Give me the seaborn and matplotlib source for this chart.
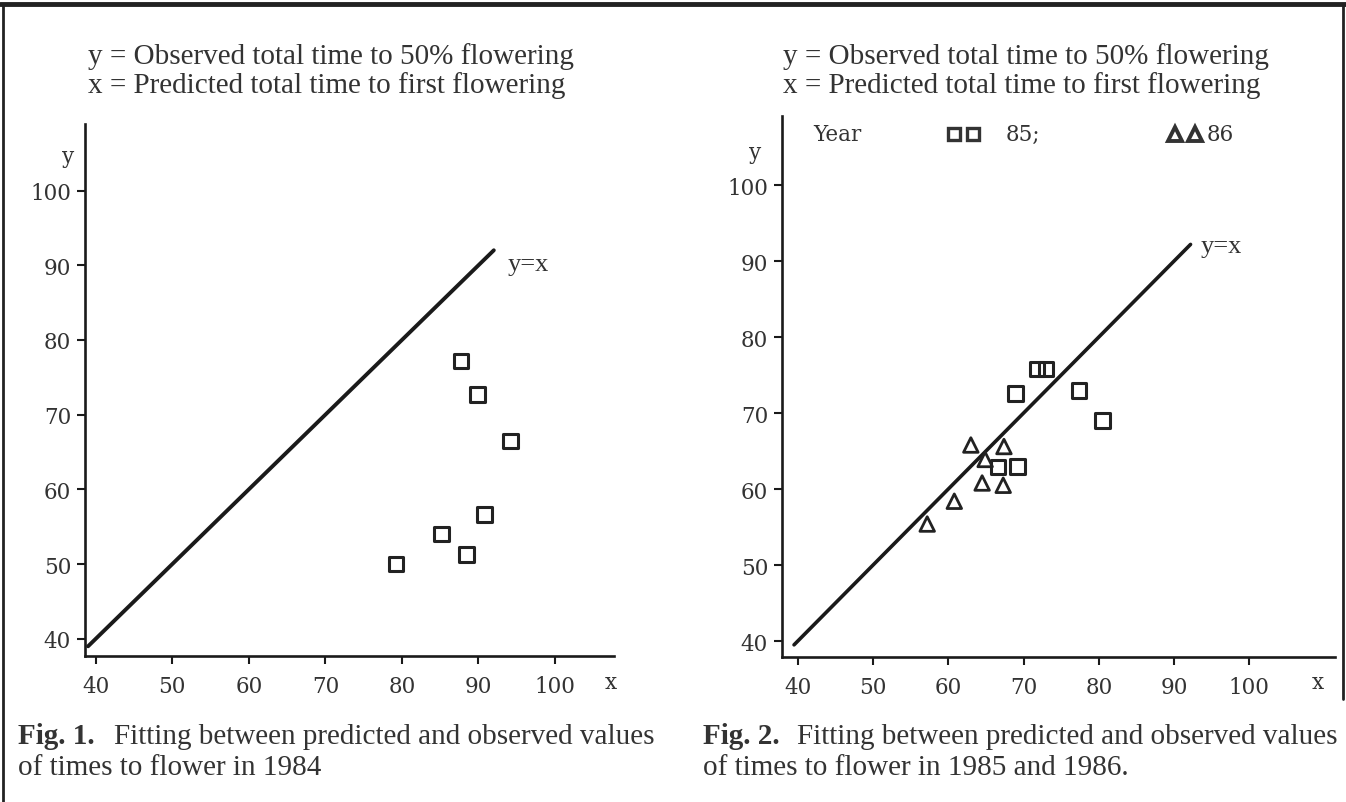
import matplotlib
matplotlib.use("Agg")
import matplotlib.pyplot as plt
from matplotlib.lines import Line2D
import seaborn as sns

# =========================
# DATA
# =========================

# Fig. 1 : 1984, squares
x_1984 = [87.7, 89.9, 94.2, 90.8, 85.2, 88.4, 79.2]
y_1984 = [77.2, 72.7, 66.5, 56.6, 54.0, 51.3, 50.0]

# Fig. 2 : 1985 squares, 1986 triangles
x_1985 = [71.8, 73.0, 68.9, 77.4, 80.5, 66.6, 69.2]
y_1985 = [75.8, 75.8, 72.6, 73.0, 69.0, 62.9, 63.0]
x_1986 = [63.0, 67.4, 64.9, 64.5, 67.3, 60.8, 57.2]
y_1986 = [65.8, 65.6, 63.9, 60.8, 60.5, 58.4, 55.4]

# y = x reference lines
line_left = [39.0, 92.0]
line_right = [39.5, 92.2]

tick_values = [40, 50, 60, 70, 80, 90, 100]

header_y = "y = Observed total time to 50% flowering"
header_x = "x = Predicted total time to first flowering"

# =========================
# STYLE
# =========================

sns.set_style("white")
plt.rcParams["font.family"] = ["DejaVu Serif"]

W, H = 1346, 803
fig = plt.figure(figsize=(W / 100, H / 100), dpi=100)


def px_box(left, right, top, bottom):
    return [left / W, 1 - bottom / H, (right - left) / W, (bottom - top) / H]


def style_axes(ax, xlim, ylim):
    ax.set_xlim(*xlim)
    ax.set_ylim(*ylim)
    ax.set_xticks(tick_values)
    ax.set_yticks(tick_values)
    ax.set_xticklabels([str(t) for t in tick_values])
    ax.set_yticklabels([str(t) for t in tick_values])
    for side in ["top", "right"]:
        ax.spines[side].set_visible(False)
    for side in ["left", "bottom"]:
        ax.spines[side].set_color("#1a1a1a")
        ax.spines[side].set_linewidth(1.9)
    ax.tick_params(axis="both", direction="out", length=6, width=1.5,
                   colors="#1a1a1a", labelsize=15.5, labelcolor="#333333",
                   bottom=True, left=True)
    ax.tick_params(axis="x", pad=8)
    ax.tick_params(axis="y", pad=4)
    ax.set_xlabel("")
    ax.set_ylabel("")
    ax.set_facecolor("white")


def open_markers(ax, x, y, marker, size, lw):
    sns.scatterplot(x=x, y=y, marker=marker, s=size, color="#222222",
                    linewidth=lw, ax=ax, legend=False, zorder=3)
    coll = ax.collections[-1]
    coll.set_facecolor("none")
    coll.set_edgecolor("#222222")
    coll.set_linewidth(lw)


# =========================
# FIG. 1
# =========================

ax1 = fig.add_axes(px_box(85, 614, 125, 657))
sns.lineplot(x=line_left, y=line_left, color="#1a1a1a", linewidth=2.8, ax=ax1)
open_markers(ax1, x_1984, y_1984, "s", 110, 2.2)
style_axes(ax1, (38.6, 107.7), (37.7, 108.9))
ax1.text(93.8, 90.2, "y=x", fontsize=19, family="Liberation Serif",
         color="#333333", va="center", ha="left")

# =========================
# FIG. 2
# =========================

ax2 = fig.add_axes(px_box(782, 1335, 117, 658))
sns.lineplot(x=line_right, y=line_right, color="#1a1a1a", linewidth=2.6, ax=ax2)
open_markers(ax2, x_1985, y_1985, "s", 110, 2.2)
open_markers(ax2, x_1986, y_1986, "^", 110, 2.0)
style_axes(ax2, (37.9, 111.4), (37.9, 109.1))
ax2.text(93.5, 92.0, "y=x", fontsize=19, family="Liberation Serif",
         color="#333333", va="center", ha="left")

# legend drawn as text + marker glyphs
leg_y = 0.967
ax2.text(0.056, leg_y, "Year", transform=ax2.transAxes, fontsize=15.5,
         color="#333333", va="center", ha="left")
ax2.text(0.405, leg_y, "85;", transform=ax2.transAxes, fontsize=15.5,
         color="#333333", va="center", ha="left")
ax2.text(0.767, leg_y, "86", transform=ax2.transAxes, fontsize=15.5,
         color="#333333", va="center", ha="left")
for fx in [0.311, 0.346]:
    ax2.plot(fx, leg_y, marker="s", markersize=9, mfc="none", mec="#333333",
             mew=2.4, transform=ax2.transAxes, clip_on=False)
for fx in [0.711, 0.747]:
    ax2.plot(fx, leg_y, marker="^", markersize=10, mfc="none", mec="#333333",
             mew=2.8, transform=ax2.transAxes, clip_on=False)

# =========================
# TEXT AROUND THE PLOTS
# =========================

serif_txt = dict(family="Liberation Serif", color="#333333", fontsize=21)

for x0 in [88, 783]:
    fig.text(x0 / W, 1 - 57 / H, header_y, va="center", ha="left", **serif_txt)
    fig.text(x0 / W, 1 - 86 / H, header_x, va="center", ha="left", **serif_txt)

# axis letters
axis_txt = dict(fontsize=15.5, color="#333333", va="center", ha="center")
fig.text(68 / W, 1 - 157 / H, "y", **axis_txt)
fig.text(755 / W, 1 - 153 / H, "y", **axis_txt)
fig.text(611 / W, 1 - 683 / H, "x", **axis_txt)
fig.text(1318 / W, 1 - 683 / H, "x", **axis_txt)

# captions
cap_bold = dict(family="Liberation Serif", color="#333333", fontsize=21,
                fontweight="bold", va="center", ha="left")
cap_norm = dict(family="Liberation Serif", color="#333333", fontsize=21,
                va="center", ha="left")

fig.text(18 / W, 1 - 737 / H, "Fig. 1.", **cap_bold)
fig.text(114 / W, 1 - 737 / H, "Fitting between predicted and observed values",
         **cap_norm)
fig.text(18 / W, 1 - 768 / H, "of times to flower in 1984", **cap_norm)

fig.text(703 / W, 1 - 737 / H, "Fig. 2.", **cap_bold)
fig.text(797 / W, 1 - 737 / H, "Fitting between predicted and observed values",
         **cap_norm)
fig.text(703 / W, 1 - 768 / H, "of times to flower in 1985 and 1986.", **cap_norm)

# scan frame: thick top edge, thin sides
fig.add_artist(Line2D([0, 1], [1 - 5 / H, 1 - 5 / H], color="#222222", linewidth=3.5))
fig.add_artist(Line2D([3 / W, 3 / W], [0, 1 - 5 / H], color="#222222", linewidth=2))
fig.add_artist(Line2D([1343 / W, 1343 / W], [1 - 700 / H, 1 - 5 / H],
                      color="#222222", linewidth=2))

fig.savefig("out.png", dpi=100, facecolor="white")
